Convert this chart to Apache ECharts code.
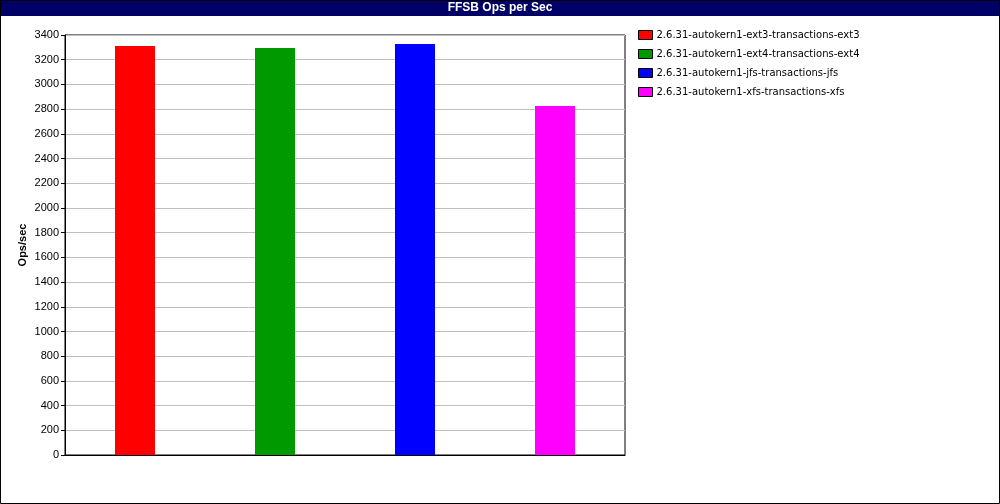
<!DOCTYPE html>
<html><head><meta charset="utf-8">
<script src="https://cdn.jsdelivr.net/npm/echarts@6/dist/echarts.min.js"></script>
<style>html,body{margin:0;padding:0;background:#fff}#c{width:1000px;height:504px}</style>
</head><body><div id="c"></div>
<script>
const categories = ['ext3', 'ext4', 'jfs', 'xfs'];
const seriesNames = [
  '2.6.31-autokern1-ext3-transactions-ext3',
  '2.6.31-autokern1-ext4-transactions-ext4',
  '2.6.31-autokern1-jfs-transactions-jfs',
  '2.6.31-autokern1-xfs-transactions-xfs'
];
const values = [3311, 3295, 3328, 2826];
const colors = ['#ff0000', '#009900', '#0000ff', '#ff00ff'];
const yTicks = {min: 0, max: 3400, interval: 200};
const yAxisTitle = 'Ops/sec';
const chartTitle = 'FFSB Ops per Sec';

const chart = echarts.init(document.getElementById('c'), null, {renderer: 'canvas'});
const series = seriesNames.map((name, i) => ({
  name: name,
  type: 'bar',
  stack: 'all',
  barWidth: 40,
  data: categories.map((c, j) => j === i ? values[i] : '-'),
  itemStyle: {color: colors[i]},
  emphasis: {disabled: true}
}));
chart.setOption({
  animation: false,
  textStyle: {fontFamily: 'Liberation Sans, Arial, sans-serif'},
  graphic: [
    {type: 'rect', shape: {x: 0.5, y: 0.5, width: 999, height: 503}, style: {fill: 'none', stroke: '#000', lineWidth: 1}, z: 100},
    {type: 'rect', shape: {x: 0, y: 0, width: 1000, height: 16}, style: {fill: '#000066'}, z: 50},
    {type: 'text', x: 500, y: 8, style: {text: chartTitle, fill: '#fff', font: 'bold 12px Liberation Sans, Arial, sans-serif', textAlign: 'center', textVerticalAlign: 'middle'}, z: 51},
    {type: 'text', x: 23, y: 245, rotation: Math.PI / 2, style: {text: yAxisTitle, fill: '#000', font: 'bold 11px Liberation Sans, Arial, sans-serif', textAlign: 'center', textVerticalAlign: 'middle'}, z: 51}
  ],
  legend: {
    orient: 'vertical',
    left: 633,
    top: 25,
    itemWidth: 14,
    itemHeight: 9,
    itemGap: 9,
    icon: 'rect',
    selectedMode: false,
    textStyle: {fontSize: 10, fontFamily: 'DejaVu Sans', color: '#000', padding: [0, 0, 0, -1]},
    itemStyle: {borderColor: '#000', borderWidth: 1},
    data: seriesNames
  },
  grid: {left: 65, top: 35, width: 560, height: 420, show: true, borderColor: '#000', borderWidth: 1, backgroundColor: 'transparent'},
  xAxis: {
    type: 'category',
    data: categories,
    axisLine: {lineStyle: {color: '#000'}},
    axisTick: {show: false},
    axisLabel: {show: false},
    splitLine: {show: false}
  },
  yAxis: {
    type: 'value',
    min: yTicks.min, max: yTicks.max, interval: yTicks.interval,
    axisLine: {show: true, lineStyle: {color: '#000'}},
    axisTick: {show: true, length: 4, lineStyle: {color: '#000'}},
    axisLabel: {fontSize: 11, color: '#000', margin: 6, formatter: v => String(v)},
    splitLine: {lineStyle: {color: '#c0c0c0'}}
  },
  series: series
});
</script></body></html>
